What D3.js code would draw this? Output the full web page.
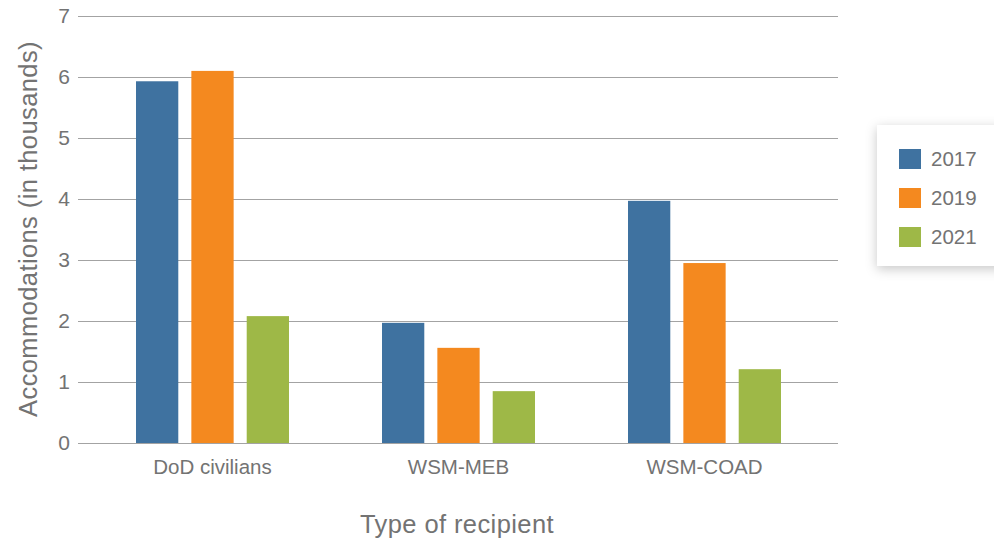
<!DOCTYPE html>
<html>
<head>
<meta charset="utf-8">
<script src="https://cdn.jsdelivr.net/npm/d3@7/dist/d3.min.js"></script>
<style>
  html, body { margin: 0; padding: 0; background: #fff; }
  svg { display: block; font-family: "Liberation Sans", Arial, Helvetica, sans-serif; }
</style>
</head>
<body>
<svg id="chart" width="994" height="542"></svg>
<script>
// Accommodations by type of recipient, in thousands
const categories = ["DoD civilians", "WSM-MEB", "WSM-COAD"];
const years = ["2017", "2019", "2021"];
const values2017 = [5.93, 1.97, 3.97];
const values2019 = [6.10, 1.56, 2.95];
const values2021 = [2.08, 0.85, 1.21];
const yTicks = [0, 1, 2, 3, 4, 5, 6, 7];
const colors = ["#3f72a0", "#f4891f", "#9eb847"];

const series = [values2017, values2019, values2021];
const rows = categories.map((c, i) => ({
  category: c,
  values: years.map((y, j) => ({ year: y, value: series[j][i], idx: j }))
}));

const svg = d3.select("#chart");
const textColor = "#737373";

const y = d3.scaleLinear().domain([0, 7]).range([443, 16]);
const x0 = d3.scaleBand().domain(categories).range([89.5, 827.5]).paddingInner(0).paddingOuter(0);
const x1 = d3.scaleBand().domain(years).range([46.5, 199.5]).paddingInner(0.236).paddingOuter(0);

// horizontal grid lines
svg.append("g")
  .selectAll("line")
  .data(yTicks)
  .join("line")
  .attr("x1", 78).attr("x2", 838)
  .attr("y1", d => Math.round(y(d)) + 0.5)
  .attr("y2", d => Math.round(y(d)) + 0.5)
  .attr("stroke", "#a3a3a3")
  .attr("stroke-width", 1);

// y tick labels
svg.append("g")
  .selectAll("text")
  .data(yTicks)
  .join("text")
  .attr("x", 70)
  .attr("y", d => y(d))
  .attr("dy", "0.34em")
  .attr("text-anchor", "end")
  .attr("font-size", 21)
  .attr("fill", textColor)
  .text(d => d);

// bars
const groups = svg.append("g")
  .selectAll("g")
  .data(rows)
  .join("g")
  .attr("transform", d => `translate(${x0(d.category)},0)`);

groups.selectAll("rect")
  .data(d => d.values)
  .join("rect")
  .attr("x", d => x1(d.year))
  .attr("width", x1.bandwidth())
  .attr("y", d => y(d.value))
  .attr("height", d => y(0) - y(d.value))
  .attr("fill", d => colors[d.idx]);

// category labels
svg.append("g")
  .selectAll("text")
  .data(categories)
  .join("text")
  .attr("x", d => x0(d) + x0.bandwidth() / 2)
  .attr("y", 474)
  .attr("text-anchor", "middle")
  .attr("font-size", 20.5)
  .attr("fill", textColor)
  .text(d => d);

// axis titles
svg.append("text")
  .attr("x", 457)
  .attr("y", 533)
  .attr("text-anchor", "middle")
  .attr("font-size", 25.5)
  .attr("letter-spacing", 0.4)
  .attr("fill", textColor)
  .text("Type of recipient");

svg.append("text")
  .attr("transform", "translate(28,229) rotate(-90)")
  .attr("dy", "0.35em")
  .attr("text-anchor", "middle")
  .attr("font-size", 25.5)
  .attr("letter-spacing", 0.4)
  .attr("fill", textColor)
  .text("Accommodations (in thousands)");

// legend
const defs = svg.append("defs");
const f = defs.append("filter").attr("id", "legendShadow")
  .attr("x", "-30%").attr("y", "-30%").attr("width", "160%").attr("height", "160%");
f.append("feDropShadow").attr("dx", 0).attr("dy", 3).attr("stdDeviation", 6)
  .attr("flood-color", "#000").attr("flood-opacity", 0.22);

const legend = svg.append("g");
legend.append("rect")
  .attr("x", 877).attr("y", 125).attr("width", 130).attr("height", 141)
  .attr("fill", "#fff")
  .attr("filter", "url(#legendShadow)");

const items = legend.selectAll("g.item")
  .data(years)
  .join("g")
  .attr("class", "item")
  .attr("transform", (d, i) => `translate(899,${149 + i * 39})`);

items.append("rect")
  .attr("width", 22).attr("height", 20)
  .attr("fill", (d, i) => colors[i]);

items.append("text")
  .attr("x", 32)
  .attr("y", 10)
  .attr("dy", "0.36em")
  .attr("font-size", 20.5)
  .attr("fill", textColor)
  .text(d => d);
</script>
</body>
</html>
